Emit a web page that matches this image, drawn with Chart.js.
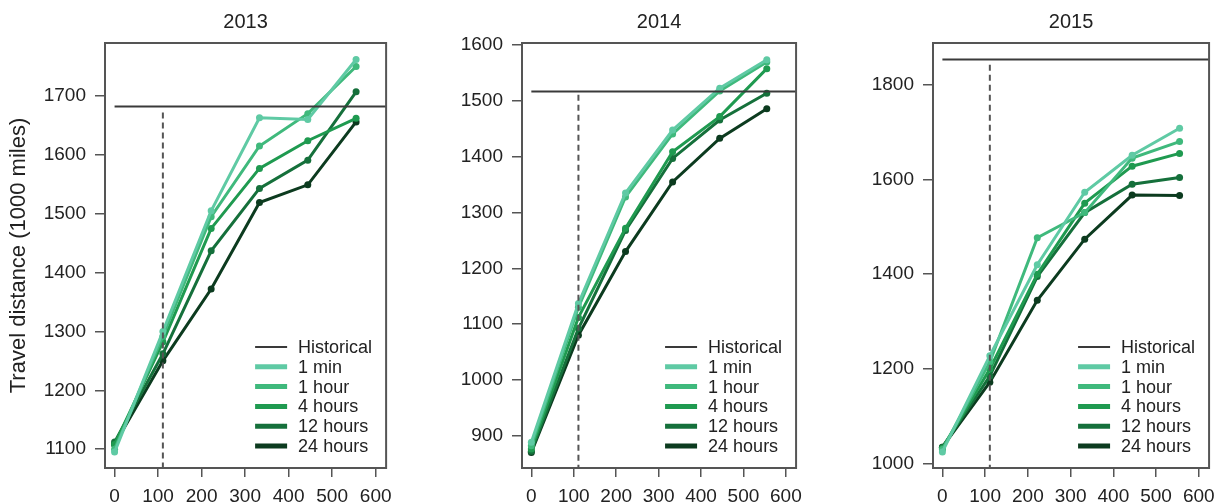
<!DOCTYPE html>
<html>
<head>
<meta charset="utf-8">
<script src="https://cdn.jsdelivr.net/npm/chart.js@4.4.1/dist/chart.umd.min.js"></script>
<style>
  body { margin: 0; background: #fff; }
  .panel { position: absolute; top: 0; height: 504px; }
</style>
</head>
<body>
<div class="panel" id="p0" style="left:0px;width:400px"><canvas id="c0"></canvas></div>
<div class="panel" id="p1" style="left:400px;width:410px"><canvas id="c1"></canvas></div>
<div class="panel" id="p2" style="left:810px;width:413px"><canvas id="c2"></canvas></div>
<script>
// x positions of the points
const xDays = [0, 111, 222, 333, 444, 555];
const years = ['2013', '2014', '2015'];
const seriesNames = ['1 min', '1 hour', '4 hours', '12 hours', '24 hours'];
const seriesColors = ['#5fcaa4', '#3fb97c', '#1f9a50', '#15703b', '#0c3b1f'];

// values per year, one row per series
const values2013 = [
    [1095, 1300, 1505, 1663, 1660, 1762],
    [1100, 1292, 1495, 1615, 1670, 1750],
    [1108, 1282, 1475, 1577, 1624, 1662],
    [1112, 1262, 1437, 1543, 1591, 1707],
    [1108, 1250, 1372, 1519, 1549, 1656]
];
const values2014 = [
    [888, 1137, 1335, 1448, 1523, 1574],
    [882, 1130, 1328, 1441, 1518, 1570],
    [876, 1112, 1272, 1409, 1472, 1558],
    [872, 1092, 1268, 1397, 1466, 1514],
    [870, 1080, 1230, 1355, 1433, 1486]
];
const values2015 = [
    [1025, 1228, 1420, 1573, 1651, 1708],
    [1030, 1215, 1477, 1530, 1645, 1680],
    [1032, 1200, 1400, 1550, 1628, 1655],
    [1035, 1185, 1395, 1530, 1590, 1604],
    [1035, 1172, 1345, 1474, 1567, 1566]
];
const allValues = [values2013, values2014, values2015];

const historical = [1682, 1517, 1853];
const cutoffX = 111;
const cutoffTop = [1672, 1511, 1842];

const yMin = [1068, 842, 991];
const yMax = [1790, 1604, 1888];
const yTicks = [
    [1100, 1200, 1300, 1400, 1500, 1600, 1700],
    [900, 1000, 1100, 1200, 1300, 1400, 1500, 1600],
    [1000, 1200, 1400, 1600, 1800]
];
const xTicks = [0, 100, 200, 300, 400, 500, 600];
const xMin = -22, xMax = 624;

// where each plot box sits inside its canvas
const boxLeft = [105, 122, 123];
const boxRight = [13, 7, 9];

const FONT = '"Liberation Sans", Arial, Helvetica, sans-serif';
const textColor = '#222';

const boxPlugin = {
    id: 'box',
    afterDraw(chart) {
        const a = chart.chartArea;
        const ctx = chart.ctx;
        ctx.save();
        ctx.strokeStyle = '#555';
        ctx.lineWidth = 2;
        ctx.strokeRect(a.left, a.top, a.right - a.left, a.bottom - a.top);

        // panel title, centred on the box
        ctx.fillStyle = textColor;
        ctx.font = '20px ' + FONT;
        ctx.textAlign = 'center';
        ctx.textBaseline = 'middle';
        ctx.fillText(chart.options.panelTitle, (a.left + a.right) / 2, 22);

        // legend inside the box
        const rows = chart.data.datasets.filter(d => d.inLegend);
        ctx.font = '18px ' + FONT;
        ctx.textAlign = 'left';
        rows.forEach((d, i) => {
            const y = a.bottom - 121 + i * 19.8;
            ctx.strokeStyle = d.borderColor;
            ctx.lineWidth = d.label === 'Historical' ? 2 : 5;
            ctx.beginPath();
            ctx.moveTo(a.right - 131, y);
            ctx.lineTo(a.right - 99, y);
            ctx.stroke();
            ctx.fillStyle = textColor;
            ctx.fillText(d.label, a.right - 88, y + 1);
        });
        ctx.restore();
    }
};

years.forEach((year, i) => {
    const datasets = [];
    datasets.push({
        label: 'Historical',
        inLegend: true,
        data: [{x: 0, y: historical[i]}, {x: xMax, y: historical[i]}],
        borderColor: '#3a3a3a',
        borderWidth: 2,
        pointRadius: 0,
        showLine: true
    });
    datasets.push({
        label: 'cutoff',
        data: [{x: cutoffX, y: cutoffTop[i]}, {x: cutoffX, y: yMin[i]}],
        borderColor: '#555',
        borderWidth: 2,
        borderDash: [6, 4],
        pointRadius: 0,
        showLine: true
    });
    seriesNames.forEach((name, s) => {
        datasets.push({
            label: name,
            inLegend: true,
            data: xDays.map((x, k) => ({x: x, y: allValues[i][s][k]})),
            borderColor: seriesColors[s],
            backgroundColor: seriesColors[s],
            borderWidth: 3,
            pointRadius: 3.5,
            pointBorderWidth: 0,
            showLine: true
        });
    });

    new Chart(document.getElementById('c' + i), {
        type: 'scatter',
        data: { datasets: datasets },
        plugins: [boxPlugin],
        options: {
            panelTitle: year,
            responsive: true,
            maintainAspectRatio: false,
            animation: false,
            layout: { padding: { left: 0, right: boxRight[i], top: 43, bottom: 0 } },
            plugins: {
                legend: { display: false },
                tooltip: { enabled: false },
                title: { display: false }
            },
            scales: {
                x: {
                    type: 'linear',
                    min: xMin,
                    max: xMax,
                    afterBuildTicks: sc => { sc.ticks = xTicks.map(v => ({value: v})); },
                    afterFit: sc => { sc.height = 36; },
                    border: { display: false },
                    grid: { drawOnChartArea: false, drawTicks: true, tickLength: 9, color: '#555', lineWidth: 1.5 },
                    ticks: { color: textColor, padding: 8, font: { family: FONT, size: 19 },
                             callback: v => String(v) }
                },
                y: {
                    min: yMin[i],
                    max: yMax[i],
                    afterBuildTicks: sc => { sc.ticks = yTicks[i].map(v => ({value: v})); },
                    afterFit: sc => { sc.width = boxLeft[i]; },
                    border: { display: false },
                    grid: { drawOnChartArea: false, drawTicks: true, tickLength: 10, color: '#555', lineWidth: 1.5 },
                    ticks: { color: textColor, padding: 9, font: { family: FONT, size: 19 },
                             callback: v => String(v) },
                    title: {
                        display: i === 0,
                        text: 'Travel distance (1000 miles)',
                        color: textColor,
                        font: { family: FONT, size: 22 },
                        padding: { top: 6, bottom: 0 }
                    }
                }
            }
        }
    });
});
</script>
</body>
</html>
